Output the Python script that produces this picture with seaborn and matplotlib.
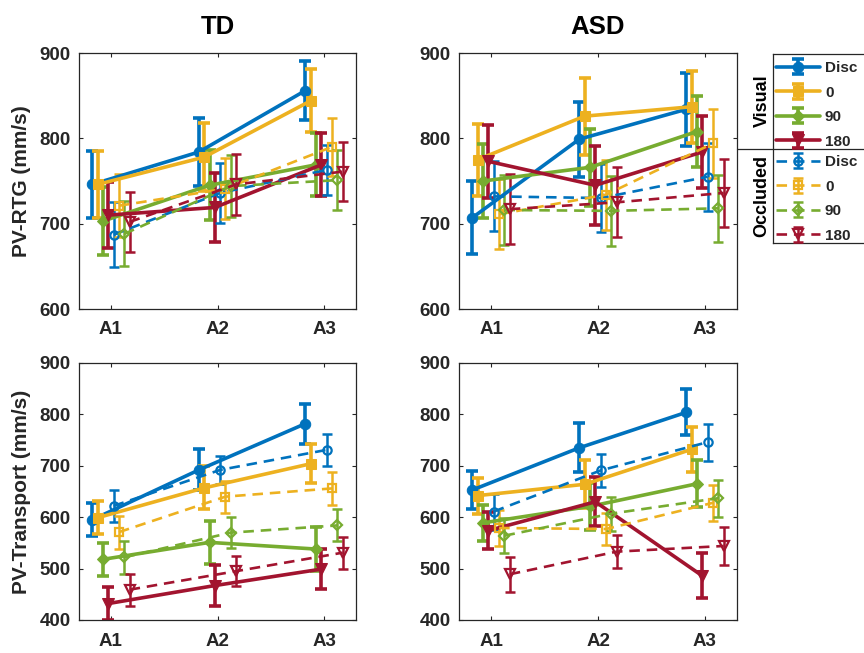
import numpy as np
import pandas as pd
import matplotlib
matplotlib.use("Agg")
import matplotlib.pyplot as plt
from matplotlib.container import ErrorbarContainer
from matplotlib.lines import Line2D
import seaborn as sns

# Sessions, conditions and groups
sessions = ["A1", "A2", "A3"]
angles = ["Disc", "0", "90", "180"]
groups = ["TD", "ASD"]

# Rows = Disc, 0, 90, 180 ; columns = A1, A2, A3 (means and error bar half-lengths)
td_rtg_vis = [[746, 784, 856], [746, 778, 844], [703, 745, 769], [710, 719, 769]]
td_rtg_vis_err = [[39, 40, 35], [39, 40, 37], [40, 41, 37], [39, 40, 37]]
td_rtg_occ = [[687, 736, 763], [721, 741, 790], [688, 744, 751], [702, 746, 761]]
td_rtg_occ_err = [[38, 35, 29], [37, 36, 34], [38, 36, 35], [35, 36, 35]]

asd_rtg_vis = [[707, 799, 834], [775, 826, 837], [750, 766, 808], [773, 745, 784]]
asd_rtg_vis_err = [[43, 44, 43], [42, 45, 42], [43, 45, 42], [43, 46, 42]]
asd_rtg_occ = [[732, 730, 755], [711, 734, 794], [716, 715, 718], [717, 725, 736]]
asd_rtg_occ_err = [[41, 40, 40], [41, 41, 40], [41, 41, 39], [41, 41, 40]]

td_tr_vis = [[595, 692, 782], [599, 657, 704], [518, 551, 538], [432, 467, 499]]
td_tr_vis_err = [[32, 40, 39], [32, 42, 38], [32, 42, 43], [32, 40, 39]]
td_tr_occ = [[622, 692, 731], [571, 640, 656], [522, 570, 584], [459, 495, 531]]
td_tr_occ_err = [[31, 28, 31], [32, 31, 32], [32, 30, 31], [31, 29, 31]]

asd_tr_vis = [[653, 735, 804], [642, 664, 732], [589, 621, 665], [574, 630, 486]]
asd_tr_vis_err = [[37, 48, 45], [35, 47, 44], [35, 46, 46], [36, 48, 44]]
asd_tr_occ = [[611, 691, 746], [579, 577, 628], [564, 607, 637], [489, 533, 544]]
asd_tr_occ_err = [[35, 32, 36], [35, 32, 35], [34, 33, 36], [34, 32, 37]]

colors = ["#0072BD", "#EDB120", "#77AC30", "#A2142F"]
markers = ["o", "s", "D", "v"]
vis_offsets = [-0.175, -0.125, -0.075, -0.025]
occ_offsets = [0.025, 0.075, 0.125, 0.175]

sns.set_style("ticks")
plt.rcParams["font.family"] = ["Liberation Sans", "DejaVu Sans"]
plt.rcParams["font.weight"] = "bold"
plt.rcParams["axes.labelweight"] = "bold"
plt.rcParams["axes.titleweight"] = "bold"
axis_col = "#262626"

fig = plt.figure(figsize=(8.64, 6.53), dpi=100)
W, H = 864, 653


def px_axes(x0, y0, x1, y1):
    return fig.add_axes([x0 / W, 1 - y1 / H, (x1 - x0) / W, (y1 - y0) / H])


def draw_series(ax, means, errs, offsets, filled):
    conts = []
    for i in range(4):
        x = np.arange(1, 4) + offsets[i]
        df = pd.DataFrame({"session": x, "value": means[i]})
        c = colors[i]
        if filled:
            ms = 9 if markers[i] == "v" else 7.5
            if markers[i] == "D":
                ms = 6.5
            sns.lineplot(data=df, x="session", y="value", ax=ax, color=c,
                         marker=markers[i], markersize=ms, markerfacecolor=c,
                         markeredgecolor=c, lw=2.6, legend=False, zorder=3)
            elw, cap = 2.6, 4
        else:
            ms = 7 if markers[i] == "v" else 6
            if markers[i] == "D":
                ms = 5
            sns.lineplot(data=df, x="session", y="value", ax=ax, color=c,
                         marker=markers[i], markersize=ms, markerfacecolor="none",
                         markeredgecolor=c, markeredgewidth=1.6,
                         linestyle=(0, (4, 2.6)), lw=1.9, legend=False, zorder=3)
            elw, cap = 1.8, 3.5
        line = ax.lines[-1]
        eb = ax.errorbar(x, means[i], yerr=errs[i], fmt="none", ecolor=c,
                         elinewidth=elw, capsize=cap, capthick=elw, zorder=2.5)
        conts.append(ErrorbarContainer((line, eb.lines[1], eb.lines[2]),
                                       has_xerr=False, has_yerr=True))
    return conts


panels = [
    (px_axes(79, 53, 356, 309), td_rtg_vis, td_rtg_vis_err, td_rtg_occ, td_rtg_occ_err, (600, 900)),
    (px_axes(459, 53, 737, 309), asd_rtg_vis, asd_rtg_vis_err, asd_rtg_occ, asd_rtg_occ_err, (600, 900)),
    (px_axes(79, 363, 356, 620), td_tr_vis, td_tr_vis_err, td_tr_occ, td_tr_occ_err, (400, 900)),
    (px_axes(459, 363, 737, 620), asd_tr_vis, asd_tr_vis_err, asd_tr_occ, asd_tr_occ_err, (400, 900)),
]

handles = None
for k, (ax, vm, ve, om, oe, ylim) in enumerate(panels):
    vis_h = draw_series(ax, vm, ve, vis_offsets, True)
    occ_h = draw_series(ax, om, oe, occ_offsets, False)
    if handles is None:
        handles = (vis_h, occ_h)
    ax.set_xlim(0.7, 3.3)
    ax.set_ylim(*ylim)
    ax.set_xticks([1, 2, 3])
    ax.set_xticklabels(sessions)
    ax.set_yticks(np.arange(ylim[0], ylim[1] + 1, 100))
    ax.tick_params(direction="in", length=3, width=0.8, top=True, right=True,
                   labelsize=13.5, colors=axis_col, pad=6)
    ax.tick_params(axis="x", pad=9)
    for lab in ax.get_xticklabels() + ax.get_yticklabels():
        lab.set_fontweight("bold")
    for sp in ax.spines.values():
        sp.set_visible(True)
        sp.set_color(axis_col)
        sp.set_linewidth(0.9)
    ax.set_xlabel("")
    ax.set_ylabel("")
    if k < 2:
        ax.set_title(groups[k], fontsize=18.5, fontweight="bold", pad=14, color="black")
    if k == 0:
        ax.set_ylabel("PV-RTG (mm/s)", fontsize=15, color=axis_col, labelpad=6)
    if k == 2:
        ax.set_ylabel("PV-Transport (mm/s)", fontsize=15, color=axis_col, labelpad=6)

# legend box with Visual / Occluded groups
ax_leg = px_axes(773, 54, 960, 243)
ax_leg.set_xticks([])
ax_leg.set_yticks([])
for sp in ax_leg.spines.values():
    sp.set_color(axis_col)
    sp.set_linewidth(0.9)
ax_leg.patch.set_alpha(0)
fig.add_artist(Line2D([737 / W, 1], [1 - 149 / H, 1 - 149 / H], color=axis_col, lw=0.9))

leg_kw = dict(frameon=False, handlelength=2.9, handletextpad=0.3,
              labelspacing=0.69, borderpad=0, borderaxespad=0, loc="upper left",
              prop={"weight": "bold", "size": 11})
leg1 = fig.legend(handles[0], angles, bbox_to_anchor=(776 / W, 1 - 61 / H), **leg_kw)
leg2 = fig.legend(handles[1], angles, bbox_to_anchor=(776 / W, 1 - 155 / H), **leg_kw)
fig.text(762 / W, 1 - 101 / H, "Visual", rotation=90, ha="center", va="center",
         fontsize=13, fontweight="bold", color="black")
fig.text(762 / W, 1 - 196 / H, "Occluded", rotation=90, ha="center", va="center",
         fontsize=13, fontweight="bold", color="black")

fig.savefig("out.png", dpi=100)
